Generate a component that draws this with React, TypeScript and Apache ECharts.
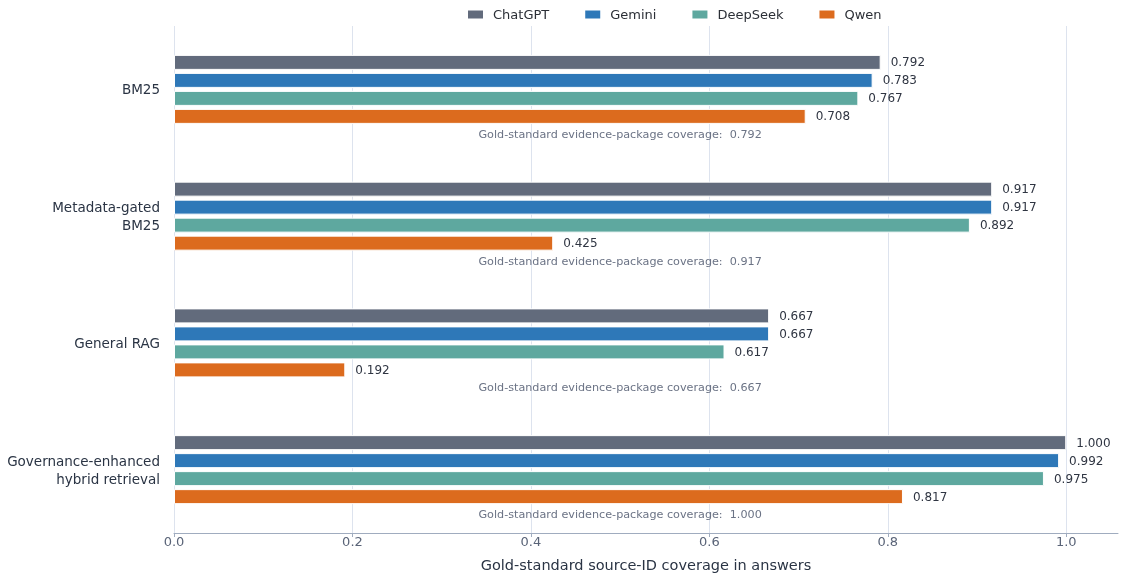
import React, { useEffect, useRef } from "react";
import * as echarts from "echarts";

const methods = [
  "BM25",
  "Metadata-gated\nBM25",
  "General RAG",
  "Governance-enhanced\nhybrid retrieval",
];
const chatgpt = [0.792, 0.917, 0.667, 1.0];
const gemini = [0.783, 0.917, 0.667, 0.992];
const deepseek = [0.767, 0.892, 0.617, 0.975];
const qwen = [0.708, 0.425, 0.192, 0.817];
const goldCoverage = [0.792, 0.917, 0.667, 1.0];
const xTicks = [0, 0.2, 0.4, 0.6, 0.8, 1.0];

const models = [
  { name: "ChatGPT", data: chatgpt, color: "#626b7c" },
  { name: "Gemini", data: gemini, color: "#2e78b8" },
  { name: "DeepSeek", data: deepseek, color: "#5ea89f" },
  { name: "Qwen", data: qwen, color: "#dc6b1e" },
];

const FONT = "DejaVu Sans";

const App: React.FC = () => {
  const chartRef = useRef<HTMLDivElement>(null);

  useEffect(() => {
    if (!chartRef.current) return;
    const chart = echarts.init(chartRef.current, undefined, { renderer: "svg" });

    const barSeries = models.map((m) => ({
      name: m.name,
      type: "bar",
      data: m.data,
      barWidth: 15,
      barGap: "20%",
      itemStyle: { color: m.color, borderColor: "#ffffff", borderWidth: 1 },
      label: {
        show: true,
        position: "right",
        distance: 10,
        color: "#2f3542",
        fontFamily: FONT,
        fontSize: 12,
        formatter: (p: any) => Number(p.value).toFixed(3),
      },
    }));

    const option: any = {
      animation: false,
      textStyle: { fontFamily: FONT },
      legend: {
        data: models.map((m) => m.name),
        left: 466,
        top: 8,
        padding: 0,
        icon: "rect",
        itemWidth: 17,
        itemHeight: 10,
        itemGap: 34,
        textStyle: {
          fontFamily: FONT,
          fontSize: 13,
          color: "#2b2f36",
          padding: [0, 0, 0, 4],
        },
      },
      grid: { left: 174, right: 11, top: 26, bottom: 48, containLabel: false },
      xAxis: {
        type: "value",
        min: 0,
        max: 1.058,
        interval: 0.2,
        name: "Gold-standard source-ID coverage in answers",
        nameLocation: "middle",
        nameGap: 24,
        nameTextStyle: { fontFamily: FONT, fontSize: 14.5, color: "#2a3444" },
        axisLine: { show: true, lineStyle: { color: "#a0acbf", width: 1 } },
        axisTick: {
          show: true,
          length: 4,
          customValues: xTicks,
          lineStyle: { color: "#a0acbf" },
        },
        axisLabel: {
          customValues: xTicks,
          margin: 2,
          fontFamily: FONT,
          fontSize: 13,
          color: "#5a6478",
          formatter: (v: number) => v.toFixed(1),
        },
        splitLine: {
          show: true,
          lineStyle: {
            color: [
              "#dde3ee",
              "#dde3ee",
              "#dde3ee",
              "#dde3ee",
              "#dde3ee",
              "#dde3ee",
              "rgba(0,0,0,0)",
            ],
            width: 1,
          },
        },
      },
      yAxis: {
        type: "category",
        data: methods,
        inverse: true,
        axisLine: { show: false },
        axisTick: { show: false },
        splitLine: { show: false },
        axisLabel: {
          margin: 14,
          fontFamily: FONT,
          fontSize: 13.5,
          lineHeight: 18,
          color: "#2a3444",
          align: "right",
        },
      },
      series: [
        {
          name: "pad",
          type: "bar",
          data: methods.map(() => "-"),
          barWidth: 15,
          barGap: "20%",
          silent: true,
        },
        ...barSeries,
        {
          name: "gold",
          type: "bar",
          data: goldCoverage.map(() => xTicks[xTicks.length - 1]),
          barWidth: 15,
          barGap: "20%",
          silent: true,
          itemStyle: { color: "rgba(0,0,0,0)", borderWidth: 0 },
          label: {
            show: true,
            position: "inside",
            color: "#6b7385",
            fontFamily: FONT,
            fontSize: 11.2,
            formatter: (p: any) =>
              "Gold-standard evidence-package coverage:  " +
              goldCoverage[p.dataIndex].toFixed(3),
          },
        },
      ],
    };

    chart.setOption(option);
    return () => {
      chart.dispose();
    };
  }, []);

  return (
    <div
      ref={chartRef}
      style={{ position: "fixed", left: 0, top: 0, width: 1129, height: 581 }}
    />
  );
};

export default App;
